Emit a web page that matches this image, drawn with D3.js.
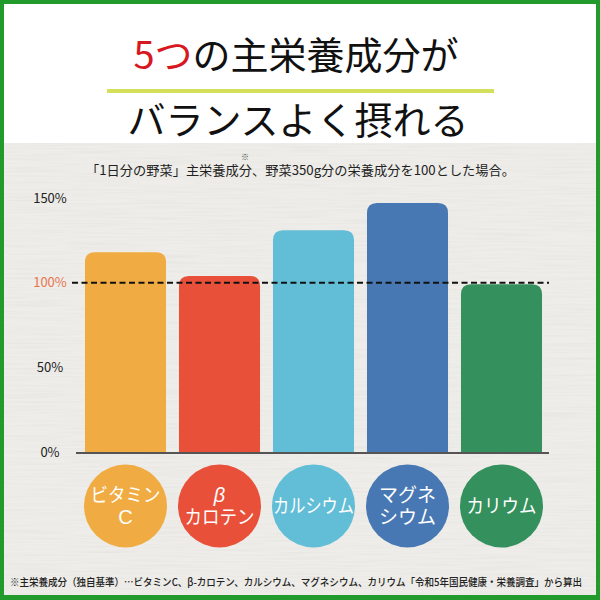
<!DOCTYPE html>
<html><head><meta charset="utf-8">
<script src="https://cdn.jsdelivr.net/npm/d3@7"></script>
<style>
html,body{margin:0;padding:0;background:#fff;}
svg{display:block;font-family:"Noto Sans CJK JP","Noto Sans",sans-serif;}
</style></head>
<body>
<svg id="c" width="600" height="600"></svg>
<script>
const categories = ["ビタミンC", "βカロテン", "カルシウム", "マグネシウム", "カリウム"];
const values = [118, 104, 131, 147, 99];
const labelLines = [["ビタミン", "C"], ["β", "カロテン"], ["カルシウム"], ["マグネ", "シウム"], ["カリウム"]];
const colors = ["#f0ac42", "#e9503a", "#62bdd6", "#4878b3", "#34905c"];
const tickValues = [0, 50, 100, 150];
const tickLabels = ["0%", "50%", "100%", "150%"];
const referenceValue = 100;
const titleLine1a = "5つ";
const titleLine1b = "の主栄養成分が";
const titleLine2 = "バランスよく摂れる";
const subtitle = "「1日分の野菜」主栄養成分、野菜350g分の栄養成分を100とした場合。";
const footnote = "※主栄養成分（独自基準）…ビタミンC、β-カロテン、カルシウム、マグネシウム、カリウム「令和5年国民健康・栄養調査」から算出";

const svg = d3.select("#c");

// texture filter
const defs = svg.append("defs");
const f = defs.append("filter").attr("id","tex").attr("x",0).attr("y",0).attr("width","100%").attr("height","100%");
f.append("feTurbulence").attr("type","fractalNoise").attr("baseFrequency","0.015 0.6").attr("numOctaves",2).attr("seed",3).attr("result","n");
f.append("feColorMatrix").attr("in","n").attr("type","matrix")
  .attr("values","0 0 0 0 0.55  0 0 0 0 0.55  0 0 0 0 0.52  0 0 0 -0.9 0.55").attr("result","m");
f.append("feComposite").attr("in","m").attr("in2","SourceGraphic").attr("operator","in");

// backgrounds
svg.append("rect").attr("x",0).attr("y",0).attr("width",600).attr("height",600).attr("fill","#229a2c");
svg.append("rect").attr("x",4).attr("y",4).attr("width",592).attr("height",139).attr("fill","#ffffff");
svg.append("rect").attr("x",4).attr("y",143).attr("width",592).attr("height",452).attr("fill","#eeede9");
svg.append("rect").attr("x",4).attr("y",143).attr("width",592).attr("height",452).attr("fill","#eeede9").attr("filter","url(#tex)").attr("opacity",0.35);

// title
const t1 = svg.append("text").attr("x",296).attr("y",69).attr("text-anchor","middle")
  .attr("font-size",38).attr("font-weight",400).attr("fill","#111");
t1.append("tspan").attr("fill","#d7191f").text(titleLine1a);
t1.append("tspan").text(titleLine1b);
svg.append("rect").attr("x",107).attr("y",89).attr("width",387).attr("height",4).attr("fill","#d4df5c");
svg.append("text").attr("x",298).attr("y",134).attr("text-anchor","middle")
  .attr("font-size",38).attr("font-weight",400).attr("fill","#111").text(titleLine2);

// subtitle
svg.append("text").attr("x",86).attr("y",175).attr("font-size",13).attr("fill","#222")
  .attr("textLength",429).attr("lengthAdjust","spacingAndGlyphs").text(subtitle);
svg.append("text").attr("x",245).attr("y",160).attr("text-anchor","middle").attr("font-size",8).attr("fill","#444").text("※");

// scales
const x = d3.scaleBand().domain(categories).range([78.5,548.5]).paddingInner(0.138).paddingOuter(0.069);
const y = d3.scaleLinear().domain([0,150]).range([452,198]);

// y axis
const ax = svg.append("g").attr("transform","translate(50,0)")
  .call(d3.axisLeft(y).tickValues(tickValues).tickFormat((d,i)=>tickLabels[i]).tickSize(0).tickPadding(0));
ax.select(".domain").remove();
ax.selectAll("text").attr("text-anchor","middle").attr("font-size",13)
  .attr("font-family","'Noto Sans CJK JP','Noto Sans',sans-serif")
  .attr("fill",d=>d===referenceValue?"#e8744f":"#222");

// bars with rounded top
const r = 10;
svg.append("g").selectAll("path").data(values).join("path")
  .attr("fill",(d,i)=>colors[i])
  .attr("d",(d,i)=>{
    const x0 = x(categories[i]), w = x.bandwidth(), y0 = y(d), yb = y(0);
    return `M${x0},${yb}V${y0+r}Q${x0},${y0} ${x0+r},${y0}H${x0+w-r}Q${x0+w},${y0} ${x0+w},${y0+r}V${yb}Z`;
  });

// baseline
svg.append("line").attr("x1",76).attr("x2",549).attr("y1",y(0)+1).attr("y2",y(0)+1)
  .attr("stroke","#555").attr("stroke-width",2);

// reference dashed line
svg.append("line").attr("x1",72).attr("x2",549).attr("y1",y(referenceValue)).attr("y2",y(referenceValue))
  .attr("stroke","#111").attr("stroke-width",2).attr("stroke-dasharray","6,3.5");

// circles
const cy = 506, cr = 41.5;
const cg = svg.append("g").selectAll("g").data(categories).join("g")
  .attr("transform",(d)=>`translate(${x(d)+x.bandwidth()/2},${cy})`);
cg.append("circle").attr("r",cr).attr("fill",(d,i)=>colors[i]);
cg.each(function(d,i){
  const lines = labelLines[i];
  const lh = 22;
  const g = d3.select(this);
  lines.forEach((ln,j)=>{
    const off = (j-(lines.length-1)/2)*lh;
    const latin = /^[A-Za-zβ]+$/.test(ln);
    const t = g.append("text").attr("text-anchor","middle").attr("x",0).attr("y",off + 6.5)
      .attr("font-size",latin ? 20 : 19).attr("font-weight",400).attr("fill","#fff").text(ln);
    if (latin) t.attr("font-family","'Liberation Sans',sans-serif");
    if (ln === "β") t.attr("font-style","italic");
    if (ln.length>=4) t.attr("textLength",Math.min(ln.length*17.5,81)).attr("lengthAdjust","spacingAndGlyphs");
  });
});

// footnote
svg.append("g").attr("transform","translate(10,586) scale(0.9,1)")
  .append("text").attr("x",0).attr("y",0).attr("font-size",10.5).attr("font-weight",500).attr("fill","#222")
  .attr("textLength",572/0.9).attr("lengthAdjust","spacingAndGlyphs").text(footnote);
</script>
</body></html>
